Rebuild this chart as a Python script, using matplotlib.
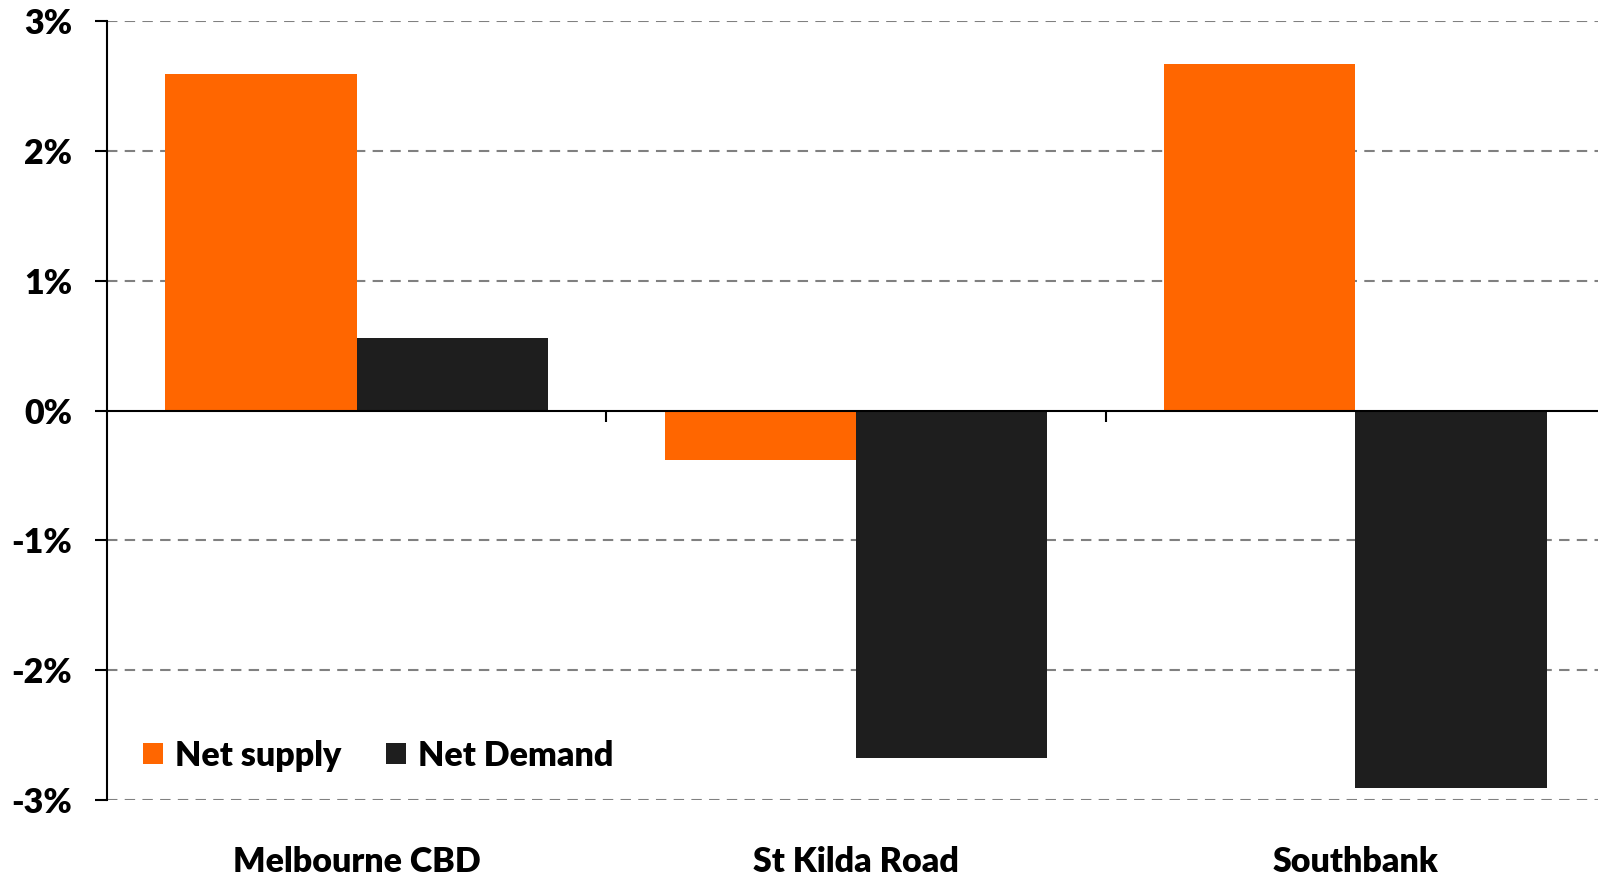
import matplotlib
matplotlib.use("Agg")
import matplotlib.pyplot as plt
import matplotlib.transforms as mtransforms
import numpy as np

categories = ["Melbourne CBD", "St Kilda Road", "Southbank"]
net_supply = [2.59, -0.38, 2.67]
net_demand = [0.56, -2.68, -2.91]
series_names = ["Net supply", "Net Demand"]
yticks = [-3, -2, -1, 0, 1, 2, 3]
ytick_labels = ["-3%", "-2%", "-1%", "0%", "1%", "2%", "3%"]

plt.rcParams['font.family'] = ['Lato', 'DejaVu Sans']

fig = plt.figure(figsize=(15.98, 8.76), dpi=100)
ax = fig.add_axes([107/1598, 76/876, 1498/1598, 779/876])

x = np.arange(len(categories))
w = 0.383
ax.bar(x - w/2, net_supply, width=w, color="#FF6600", label=series_names[0], zorder=3)
ax.bar(x + w/2, net_demand, width=w, color="#1E1E1E", label=series_names[1], zorder=3)

ax.set_xlim(-0.5, len(categories) - 0.5)
ax.set_ylim(-3, 3)
ax.set_yticks(yticks)
ax.set_yticklabels(ytick_labels, fontsize=24.5, fontweight='heavy')
ax.tick_params(axis='y', length=9, width=1.5, pad=16, color='black')

# gridlines (dashed) except zero
for v in yticks:
    if v != 0:
        ax.axhline(v, color='#808080', linestyle=(0, (5, 3.5)), linewidth=1.5, zorder=1)

ax.spines['top'].set_visible(False)
ax.spines['right'].set_visible(False)
ax.spines['left'].set_linewidth(1.5)
ax.spines['bottom'].set_position(('data', 0))
ax.spines['bottom'].set_linewidth(1.5)
ax.spines['bottom'].set_zorder(4)

ax.set_xticks(x + 0.5)
ax.set_xticklabels([])
ax.tick_params(axis='x', length=8, width=1.5, direction='out')

trans = mtransforms.blended_transform_factory(ax.transData, ax.transAxes)
for i, c in enumerate(categories):
    ax.text(i, -0.08, c, transform=trans, ha='center', va='center',
            fontsize=24.5, fontweight='heavy')

leg = ax.legend(loc='center left', bbox_to_anchor=(0.024, 0.057), ncol=2, frameon=False,
                prop={'size': 24.5, 'weight': 'heavy'}, handlelength=0.6, handleheight=0.6,
                handletextpad=0.35, columnspacing=1.3, borderaxespad=0, borderpad=0)

fig.savefig("out.png", dpi=100)
